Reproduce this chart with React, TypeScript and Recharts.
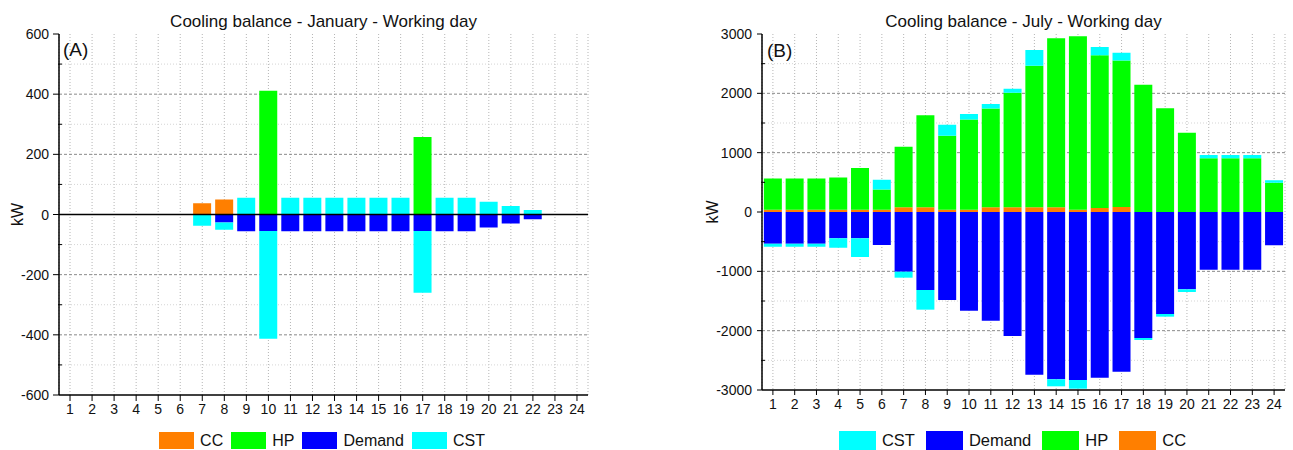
import React from 'react';
import { BarChart, Bar, XAxis, YAxis, CartesianGrid, ReferenceLine, Legend } from 'recharts';

// ---------- data ----------
const HOURS = ['1','2','3','4','5','6','7','8','9','10','11','12','13','14','15','16','17','18','19','20','21','22','23','24'];

// January - working day (kW)
const JAN_CC = [0,0,0,0,0,0,37,50,0,0,0,0,0,0,0,0,0,0,0,0,0,0,0,0];
const JAN_HP = [0,0,0,0,0,0,0,0,0,411,0,0,0,0,0,0,258,0,0,0,0,0,0,0];
const JAN_DEMAND = [0,0,0,0,0,0,0,-27,-56,-55,-56,-56,-56,-56,-56,-56,-55,-56,-56,-43,-30,-16,0,0];
const JAN_CST = [0,0,0,0,0,0,-37,-24,56,-358,56,56,56,56,56,56,-205,56,56,42,28,15,0,0];

// July - working day (kW)
const JUL_CC = [40,40,40,40,40,40,80,80,40,40,80,80,80,80,40,68,85,0,0,0,0,0,0,0];
const JUL_HP = [525,525,525,540,700,340,1020,1550,1245,1517,1663,1928,2385,2847,2921,2572,2470,2143,1748,1337,908,908,908,491];
const JUL_DEMAND = [-534,-534,-534,-444,-444,-556,-1006,-1315,-1483,-1663,-1831,-2090,-2742,-2820,-2831,-2792,-2691,-2124,-1719,-1303,-972,-972,-972,-562];
const JUL_CST = [-50,-50,-50,-157,-314,163,-101,-331,187,96,77,70,265,-118,-147,140,130,-33,-45,-45,51,51,51,45];

const JAN_TICKS_MAJOR = [-600,-400,-200,0,200,400,600];
const JAN_TICKS_MINOR = [-500,-300,-100,100,300,500];
const JUL_TICKS_MAJOR = [-3000,-2000,-1000,0,1000,2000,3000];
const JUL_TICKS_MINOR = [-2500,-1500,-500,500,1500,2500];

const COLORS: Record<string, string> = { CC: '#FF7F00', HP: '#00FF00', Demand: '#0000FF', CST: '#00FFFF' };
const JAN_LEGEND = ['CC', 'HP', 'Demand', 'CST'];
const JUL_LEGEND = ['CST', 'Demand', 'HP', 'CC'];

const janData = HOURS.map((h, i) => ({ hour: h, CC: JAN_CC[i], HP: JAN_HP[i], Demand: JAN_DEMAND[i], CST: JAN_CST[i] }));
const julData = HOURS.map((h, i) => ({ hour: h, CC: JUL_CC[i], HP: JUL_HP[i], Demand: JUL_DEMAND[i], CST: JUL_CST[i] }));

const FONT = '"Liberation Sans", Arial, sans-serif';

function makeYTick(majors: number[], fontSize: number, gap: number, majorLen: number) {
  return (props: any) => {
    const { x, y, payload } = props;
    const v = payload.value;
    const ax = x + gap;
    if (majors.includes(v)) {
      return (
        <g>
          <line x1={ax - majorLen} x2={ax} y1={y} y2={y} stroke="#000" strokeWidth={1} />
          <text x={x} y={y} textAnchor="end" dominantBaseline="central" fontSize={fontSize} fill="#111" fontFamily={FONT}>{v}</text>
        </g>
      );
    }
    return <line x1={ax - 1} x2={ax + 3} y1={y} y2={y} stroke="#000" strokeWidth={1} />;
  };
}

function makeLegend(items: string[], fontSize: number, sw: number, sh: number, padLeft: number, gapAfter: number) {
  return () => (
    <div style={{ display: 'flex', justifyContent: 'center', alignItems: 'center', paddingLeft: padLeft, paddingTop: 6, height: 25, boxSizing: 'border-box', fontFamily: FONT }}>
      {items.map((k, i) => (
        <div key={k} style={{ display: 'flex', alignItems: 'center', marginRight: i === items.length - 1 ? 0 : gapAfter }}>
          <span style={{ display: 'inline-block', width: sw, height: sh, background: COLORS[k], marginRight: 6 }} />
          <span style={{ fontSize, color: '#111', lineHeight: 1 }}>{k}</span>
        </div>
      ))}
    </div>
  );
}

const titleStyle: React.CSSProperties = { position: 'absolute', fontSize: 17, lineHeight: '20px', color: '#111', whiteSpace: 'nowrap', transform: 'translateX(-50%)', fontFamily: FONT };
const panelStyle: React.CSSProperties = { position: 'absolute', fontSize: 19, lineHeight: '22px', color: '#111', fontFamily: FONT };

export default function App() {
  return (
    <div style={{ position: 'absolute', left: 0, top: 0, width: 1293, height: 450, background: '#fff', fontFamily: FONT }}>
      {/* Left chart */}
      <div style={{ position: 'absolute', left: 0, top: 0 }}>
        <BarChart width={600} height={450} data={janData} stackOffset="sign" barCategoryGap="8.5%" margin={{ top: 34, right: 12, bottom: 0, left: 0 }}>
          <CartesianGrid horizontal={false} stroke="#b5b5b5" strokeDasharray="1 2" />
          <CartesianGrid vertical={false} horizontalValues={JAN_TICKS_MINOR} stroke="#d5d5d5" strokeDasharray="1 2" />
          <CartesianGrid vertical={false} horizontalValues={[-400, -200, 200, 400]} stroke="#8a8a8a" strokeDasharray="3 2" />
          <XAxis dataKey="hour" height={30} tickSize={6} tickMargin={3} interval={0} axisLine={{ stroke: '#000', strokeWidth: 1.5 }} tickLine={{ stroke: '#000' }} tick={{ fontSize: 14, fill: '#111' }} />
          <XAxis xAxisId="top" dataKey="hour" orientation="top" height={0} tick={false} tickLine={false} axisLine={{ stroke: '#555', strokeWidth: 1.5 }} />
          <YAxis width={59} domain={[-600, 600]} ticks={[...JAN_TICKS_MAJOR, ...JAN_TICKS_MINOR].sort((a, b) => a - b)} interval={0} tickSize={6} tickMargin={4} tickLine={false} axisLine={{ stroke: '#000', strokeWidth: 1.5 }} tick={makeYTick(JAN_TICKS_MAJOR, 14, 10, 6)} allowDataOverflow label={{ value: 'kW', angle: -90, position: 'center', dx: -12, fontSize: 16, fill: '#111' }} />
          <YAxis yAxisId="right" orientation="right" width={0} domain={[0, 1]} tick={false} tickLine={false} axisLine={{ stroke: '#555', strokeWidth: 1.5 }} />
          <Bar dataKey="CC" stackId="a" fill={COLORS.CC} isAnimationActive={false} />
          <Bar dataKey="HP" stackId="a" fill={COLORS.HP} isAnimationActive={false} />
          <Bar dataKey="Demand" stackId="a" fill={COLORS.Demand} isAnimationActive={false} />
          <Bar dataKey="CST" stackId="a" fill={COLORS.CST} isAnimationActive={false} />
          <ReferenceLine y={0} stroke="#000" strokeWidth={1.5} />
          <Legend verticalAlign="bottom" height={25} content={makeLegend(JAN_LEGEND, 16, 35, 17, 44, 8)} wrapperStyle={{ left: 0, width: 600 }} />
        </BarChart>
      </div>
      <div style={{ ...titleStyle, left: 323.5, top: 12 }}>Cooling balance - January - Working day</div>
      <div style={{ ...panelStyle, left: 63, top: 39 }}>(A)</div>

      {/* Right chart */}
      <div style={{ position: 'absolute', left: 690, top: 0 }}>
        <BarChart width={603} height={450} data={julData} stackOffset="sign" barCategoryGap="8.5%" margin={{ top: 34, right: 8, bottom: 0, left: 0 }}>
          <CartesianGrid horizontal={false} stroke="#b5b5b5" strokeDasharray="1 2" />
          <CartesianGrid vertical={false} horizontalValues={JUL_TICKS_MINOR} stroke="#d5d5d5" strokeDasharray="1 2" />
          <CartesianGrid vertical={false} horizontalValues={[-2000, -1000, 1000, 2000]} stroke="#8a8a8a" strokeDasharray="3 2" />
          <XAxis dataKey="hour" height={35} tickSize={5} tickMargin={4} interval={0} axisLine={{ stroke: '#000', strokeWidth: 1.5 }} tickLine={{ stroke: '#000' }} tick={{ fontSize: 14, fill: '#111' }} />
          <XAxis xAxisId="top" dataKey="hour" orientation="top" height={0} tick={false} tickLine={false} axisLine={{ stroke: '#555', strokeWidth: 1.5 }} />
          <YAxis width={72} domain={[-3000, 3000]} ticks={[...JUL_TICKS_MAJOR, ...JUL_TICKS_MINOR].sort((a, b) => a - b)} interval={0} tickSize={5} tickMargin={5} tickLine={false} axisLine={{ stroke: '#000', strokeWidth: 1.5 }} tick={makeYTick(JUL_TICKS_MAJOR, 14, 10, 5)} allowDataOverflow label={{ value: 'kW', angle: -90, position: 'center', dx: -14, fontSize: 16, fill: '#111' }} />
          <YAxis yAxisId="right" orientation="right" width={0} domain={[0, 1]} tick={false} tickLine={false} axisLine={{ stroke: '#555', strokeWidth: 1.5 }} />
          <Bar dataKey="CC" stackId="a" fill={COLORS.CC} isAnimationActive={false} />
          <Bar dataKey="HP" stackId="a" fill={COLORS.HP} isAnimationActive={false} />
          <Bar dataKey="Demand" stackId="a" fill={COLORS.Demand} isAnimationActive={false} />
          <Bar dataKey="CST" stackId="a" fill={COLORS.CST} isAnimationActive={false} />
          <Legend verticalAlign="bottom" height={25} content={makeLegend(JUL_LEGEND, 16.5, 37, 19, 42, 11)} wrapperStyle={{ left: 0, width: 603 }} />
        </BarChart>
      </div>
      <div style={{ ...titleStyle, left: 1023.5, top: 12 }}>Cooling balance - July - Working day</div>
      <div style={{ ...panelStyle, left: 767, top: 40 }}>(B)</div>
    </div>
  );
}
